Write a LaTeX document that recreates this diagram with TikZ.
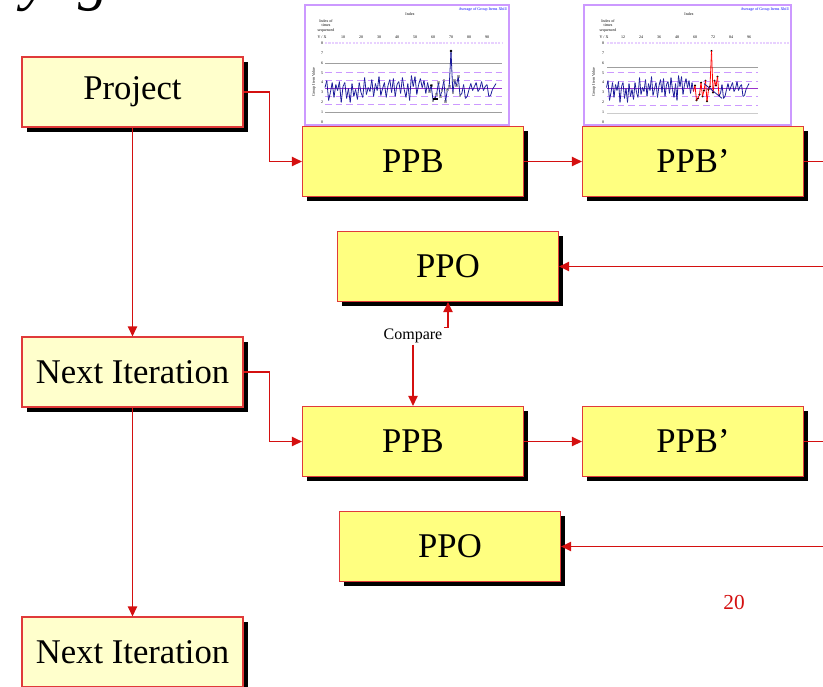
\documentclass[tikz,border=0pt]{standalone}
\usepackage{fontspec}
\setmainfont{Liberation Serif}
\usetikzlibrary{arrows.meta,shadows}
\definecolor{boxred}{HTML}{E03A3A}
\definecolor{lineRed}{HTML}{D41010}
\definecolor{paleY}{HTML}{FFFFCC}
\definecolor{brightY}{HTML}{FFFF80}
\definecolor{chartPurple}{HTML}{CC99FF}
\definecolor{meanPurple}{HTML}{9933CC}
\definecolor{seriesBlue}{HTML}{1A1A99}
\def\dataA{3.5,4.2,2.2,3.0,4.0,2.5,3.8,3.2,4.1,2.0,3.6,4.0,2.4,3.4,2.0,3.9,2.6,3.3,2.3,4.0,3.0,2.5,4.5,2.8,3.5,3.1,4.3,2.6,3.9,3.2,4.6,2.7,3.4,4.0,2.5,3.7,4.3,3.0,4.4,2.6,3.8,4.1,2.9,4.5,3.3,2.5,3.9,2.2,4.7,3.6,4.6,2.8,3.8,4.4,3.5,4.2,2.9,4.0,3.1,3.7,2.2,2.4,2.8,4.0,2.6,3.2,4.2,2.1,3.3,3.6,7.2,3.0,4.2,3.7,4.6,2.7,2.9,3.8,2.4,2.6,3.3,3.9,3.2,3.6,4.0,3.1,3.4,4.1,3.2,3.6,3.8,2.6,2.7,3.3,3.6,3.9}
\begin{document}
\begin{tikzpicture}[x=0.75pt,y=-0.75pt,
  box/.style={draw=boxred, line width=0.9pt, minimum width=165.75pt, minimum height=52.5pt,
    inner sep=0pt, font=\fontsize{26}{28}\selectfont,
    drop shadow={shadow xshift=3.4pt,shadow yshift=-3.4pt,fill=black,opacity=1}},
  palebox/.style={box, fill=paleY},
  brightbox/.style={box, fill=brightY},
  conn/.style={draw=lineRed, line width=0.9pt},
  arr/.style={conn, -{Triangle[length=7.5pt,width=7pt]}},
  tinytext/.style={font=\fontsize{3}{3.6}\selectfont, inner sep=0pt},
  gridgrey/.style={draw=gray!75, line width=0.5pt},
  griddash/.style={draw=chartPurple, line width=0.6pt, dash pattern=on 5pt off 3pt},
  gridtop/.style={draw=chartPurple!45, line width=1.6pt, densely dotted},
  meanline/.style={draw=meanPurple, line width=1.1pt},
  series/.style={draw=seriesBlue, line width=0.6pt, line join=round}
]
\useasboundingbox (0,0) rectangle (823,686);

% cropped title descenders
\node[font=\fontsize{46}{46}\selectfont\itshape, anchor=base west, inner sep=0pt] (tty) at (22,-2) {y};
\node[font=\fontsize{46}{46}\selectfont\itshape, anchor=base west, inner sep=0pt] (ttg) at (78,-2) {g};

% ---------- chart 1 ----------
\begin{scope}[shift={(305,5)}]
  \draw[chartPurple, line width=1.1pt, fill=white] (0,0) rectangle (204,120);
  \node[tinytext, text=blue, anchor=north east] at (202,2) {Average of Group Items Xbill};
  \node[tinytext] at (105,9) {Index};
  \node[tinytext, align=center] at (21,21) {Index of\\times\\sequenced};
  \node[tinytext] at (17,32) {Y / X};
  \foreach \lab/\xx in {10/38,20/56,30/74,40/92,50/110,60/128,70/146,80/164,90/182}
    \node[tinytext] at (\xx,32) {\lab};
  \foreach \v in {0,...,8}
    \node[tinytext] at (17,{117-9.85*\v}) {\v};
  \node[tinytext, rotate=90] at (9,77) {Group Item Value};
  \draw[gridtop] (20,{117-9.85*8}) -- (197,{117-9.85*8});
  \draw[gridgrey] (20,{117-9.85*6}) -- (197,{117-9.85*6});
  \draw[gridgrey] (20,{117-9.85*1}) -- (197,{117-9.85*1});
  \foreach \v in {5.0,4.2,2.6,1.8}
    \draw[griddash] (20,{117-9.85*\v}) -- (197,{117-9.85*\v});
  \draw[meanline] (20,{117-9.85*3.4}) -- (197,{117-9.85*3.4});
  \foreach \v [count=\i, remember=\v as \pv (initially 3.5)] in \dataA {
    \ifnum\i>1
      \draw[series] ({18.2+1.8*(\i-1)},{117-9.85*\pv}) -- ({18.2+1.8*\i},{117-9.85*\v});
    \fi
    \ifnum\i>58 \ifnum\i<77
      \fill[gray!70] ({18.2+1.8*\i-1.3},{117-9.85*\v-1.3}) rectangle ++(2.6,2.6);
    \fi\fi
  }
  \fill[black] ({18.2+1.8*71},{117-9.85*7.2}) circle (1.4);
  \fill[black] ({18.2+1.8*61},{117-9.85*2.2}) rectangle ++(5,-2);
  \fill[black] ({18.2+1.8*60},{117-9.85*3.7}) circle (1.2);
\end{scope}

% ---------- chart 2 ----------
\begin{scope}[shift={(584,5)}]
  \draw[chartPurple, line width=1.1pt, fill=white] (0,0) rectangle (207,120);
  \node[tinytext, text=blue, anchor=north east] at (205,2) {Average of Group Items Xbill};
  \node[tinytext] at (105,9) {Index};
  \node[tinytext, align=center] at (24,21) {Index of\\times\\sequenced};
  \node[tinytext] at (20,32) {Y / X};
  \foreach \lab/\xx in {12/39,24/57,36/75,48/93,60/111,72/129,84/147,96/165}
    \node[tinytext] at (\xx,32) {\lab};
  \foreach \v in {0,...,8}
    \node[tinytext] at (19,{117-9.85*\v}) {\v};
  \node[tinytext, rotate=90] at (10,77) {Group Item Value};
  \draw[gridtop] (23,{117-9.85*8}) -- (205,{117-9.85*8});
  \draw[gridgrey] (23,{117-9.85*5.5}) -- (174,{117-9.85*5.5});
  \draw[gridgrey, draw=gray!40] (23,{117-9.85*0.9}) -- (174,{117-9.85*0.9});
  \foreach \v in {5.0,4.1,2.55,1.65}
    \draw[griddash] (23,{117-9.85*\v}) -- (174,{117-9.85*\v});
  \draw[meanline] (23,{117-9.85*3.4}) -- (174,{117-9.85*3.4});
  \foreach \v [count=\i, remember=\v as \pv (initially 3.5)] in \dataA {
    \def\segcol{seriesBlue}
    \ifnum\i>59 \ifnum\i<77 \def\segcol{red}\fi\fi
    \ifnum\i>1
      \draw[series, draw=\segcol] ({21+1.5*(\i-1)},{117-9.85*\pv}) -- ({21+1.5*\i},{117-9.85*\v});
    \fi
    \ifnum\i>59 \ifnum\i<77
      \fill[black] ({21+1.5*\i},{117-9.85*\v}) circle (1.1);
    \fi\fi
  }
  \draw[series] ({21+1.5*66},{117-9.85*3.9}) -- ({21+1.5*78},{117-9.85*2.4});
\end{scope}

% ---------- boxes ----------
\node[palebox] (proj) at (132.5,92) {Project};
\node[palebox] (ni1) at (132.5,372) {Next Iteration};
\node[palebox] (ni2) at (132.5,652) {Next Iteration};
\node[brightbox] (ppb1) at (413,161.5) {PPB};
\node[brightbox] (ppbp1) at (693,161.5) {PPB’};
\node[brightbox] (ppo1) at (448,266.5) {PPO};
\node[brightbox] (ppb2) at (413,441.5) {PPB};
\node[brightbox] (ppbp2) at (693,441.5) {PPB’};
\node[brightbox] (ppo2) at (450,546.5) {PPO};

\node[font=\fontsize{12}{14}\selectfont, inner sep=1pt] (cmp) at (413,336) {Compare};
\node[text=lineRed, font=\fontsize{16}{18}\selectfont] (pg) at (734,602) {20};

\coordinate (e1) at (823,161.5);
\coordinate (e2) at (823,266.5);
\coordinate (e3) at (823,441.5);
\coordinate (e4) at (823,546.5);

% ---------- connectors ----------
\draw[arr] (proj.south) -- (ni1.north);
\draw[arr] (ni1.south) -- (ni2.north);
\draw[arr] (proj.east) -- ++(26,0) |- (ppb1.west);
\draw[arr] (ni1.east) -- ++(26,0) |- (ppb2.west);
\draw[arr] (ppb1.east) -- (ppbp1.west);
\draw[arr] (ppb2.east) -- (ppbp2.west);
\draw[conn] (ppbp1.east) -- (e1);
\draw[conn] (ppbp2.east) -- (e3);
\draw[arr] (e2) -- (ppo1.east);
\draw[arr] (e4) -- (ppo2.east);
\draw[arr] (cmp.north east) -| (ppo1.south);
\draw[arr] (cmp.south) -- (ppb2.north);
\end{tikzpicture}
\end{document}
